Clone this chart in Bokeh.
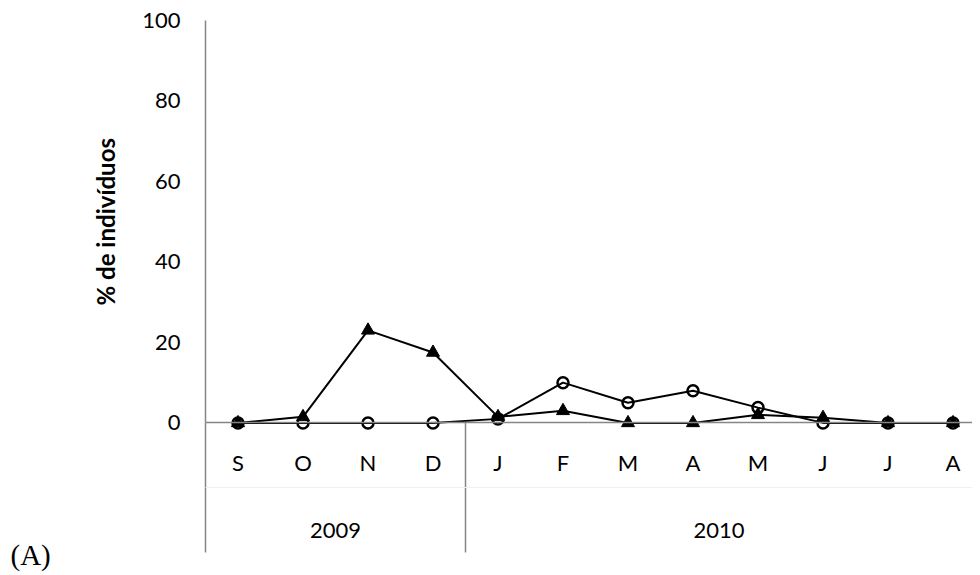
import math
from bokeh.plotting import figure
from bokeh.models import LinearAxis, FixedTicker, Range1d, Label
from bokeh.embed import file_html
from bokeh.resources import INLINE

# ---- data ----
months = ["S", "O", "N", "D", "J", "F", "M", "A", "M", "J", "J", "A"]
years = ["2009", "2010"]
months_per_year = [4, 8]
triangles = [0, 1.5, 23, 17.5, 1.5, 3, 0, 0, 2, 1.3, 0, 0]
circles = [0, 0, 0, 0, 1, 10, 5, 8, 3.8, 0, 0, 0]
y_ticks = [0, 20, 40, 60, 80, 100]

GRAY = "#868686"
FONT = "Lato"

x_pos = [i + 0.5 for i in range(len(months))]

# layout: frame fills the whole canvas; axes are drawn at fixed data locations
W, H = 972, 575
PX_X = 65.0          # px per category
PX_Y = 4.024         # px per % unit
LEFT, TOP = 205, 20  # px position of x=0 and y=100
x_start = -LEFT / PX_X
x_end = (W - LEFT) / PX_X
y_top = 100 + TOP / PX_Y
y_bot = y_top - H / PX_Y
y_floor = -32.2      # bottom of the category table
ZERO_PX = TOP + 100 * PX_Y

p = figure(width=W, height=H, x_range=Range1d(x_start, x_end), y_range=Range1d(y_bot, y_top),
           output_backend="svg", toolbar_location=None, x_axis_location=None, y_axis_location=None,
           min_border=0)
p.outline_line_color = None
p.xgrid.grid_line_color = None
p.ygrid.grid_line_color = None
p.background_fill_color = "white"

# y axis
ya = LinearAxis(fixed_location=0, bounds=(0, 100), ticker=FixedTicker(ticks=y_ticks, minor_ticks=[]),
                axis_line_color=GRAY, axis_line_width=1.5,
                major_tick_line_color=None, minor_tick_line_color=None, major_tick_out=0,
                major_label_standoff=25, major_label_text_font=FONT,
                major_label_text_font_size="22px", major_label_text_color="black")
p.add_layout(ya, "left")

# month axis at y = 0
month_axis = LinearAxis(fixed_location=0, bounds=(0, x_end),
                        ticker=FixedTicker(ticks=x_pos, minor_ticks=[]),
                        major_label_overrides={x: m for x, m in zip(x_pos, months)},
                        axis_line_color=GRAY, axis_line_width=1.5,
                        major_tick_line_color=None, minor_tick_line_color=None,
                        major_tick_out=0, major_label_standoff=26,
                        major_label_text_font=FONT, major_label_text_font_size="22px",
                        major_label_text_color="black")
p.add_layout(month_axis, "below")

# year separators (the tick at 0 also continues the value axis down)
bounds = [0]
for n in months_per_year:
    bounds.append(bounds[-1] + n)
sep_axis = LinearAxis(fixed_location=0, bounds=(0, x_end),
                      ticker=FixedTicker(ticks=[b for b in bounds if b < x_end], minor_ticks=[]),
                      axis_line_color=None, major_tick_in=0, major_tick_out=130,
                      major_tick_line_color=GRAY, major_tick_line_width=1.5,
                      minor_tick_line_color=None, major_label_text_color=None)
p.add_layout(sep_axis, "below")

# year labels
year_centers = [(bounds[i] + min(bounds[i + 1], x_end)) / 2 for i in range(len(years))]
year_axis = LinearAxis(fixed_location=y_floor / 2, bounds=(0, x_end),
                       ticker=FixedTicker(ticks=year_centers, minor_ticks=[]),
                       major_label_overrides={c: y for c, y in zip(year_centers, years)},
                       axis_line_color="#f0f0f0", axis_line_width=1,
                       major_tick_line_color=None, minor_tick_line_color=None,
                       major_tick_out=0, major_label_standoff=35,
                       major_label_text_font=FONT, major_label_text_font_size="22px",
                       major_label_text_color="black")
p.add_layout(year_axis, "below")

# series
p.line(x_pos, circles, line_color="black", line_width=2)
p.line(x_pos, triangles, line_color="black", line_width=2)
p.scatter(x_pos, circles, marker="circle", size=11, line_color="black", line_width=2.5, fill_color=None)
p.scatter(x_pos, triangles, marker="triangle", size=13, line_color="black", line_width=1, fill_color="black")

p.add_layout(Label(x=-100 / PX_X, y=50, text="% de indivíduos", angle=math.pi / 2,
                   text_align="center", text_baseline="middle", text_font=FONT,
                   text_font_style="bold", text_font_size="24px", text_color="black"))
p.add_layout(Label(x=-195 / PX_X, y=-(554 - ZERO_PX) / PX_Y, text="(A)", text_align="left",
                   text_baseline="middle",
                   text_font="Liberation Serif", text_font_size="29px", text_color="black"))

open("out.html", "w").write(file_html(p, INLINE))
